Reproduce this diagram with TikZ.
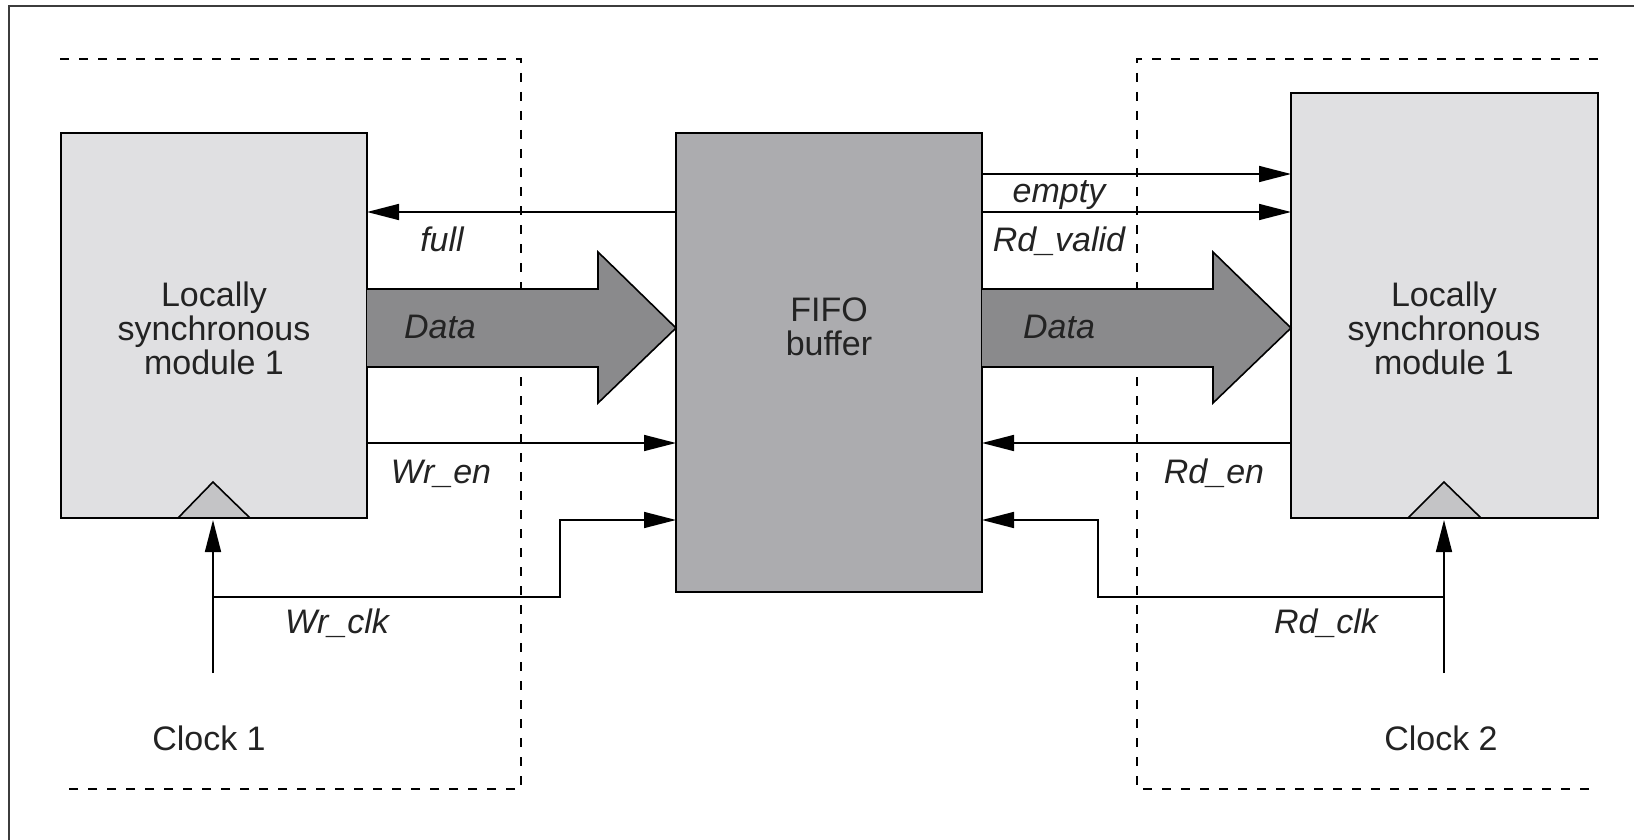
\documentclass[tikz,border=0pt]{standalone}
\usepackage{fontspec}
\setmainfont{Liberation Sans}
\usetikzlibrary{arrows.meta}
\definecolor{modfill}{RGB}{224,224,226}
\definecolor{fifofill}{RGB}{172,172,175}
\definecolor{datafill}{RGB}{138,138,140}
\definecolor{trifill}{RGB}{196,196,198}
\definecolor{framecol}{RGB}{60,60,60}
\definecolor{textcol}{RGB}{35,35,35}
\tikzset{
  box/.style={draw=black, line width=1pt, inner sep=0pt, outer sep=0pt},
  sig/.style={draw=black, line width=0.8pt, -{Triangle[length=16pt,width=8pt]}},
  zone/.style={draw=black, line width=0.9pt, dash pattern=on 4.5pt off 5pt},
  lab/.style={font=\fontsize{17}{17}\selectfont\itshape, text=textcol, inner sep=0pt, anchor=base},
  txt/.style={font=\fontsize{17}{17}\selectfont, text=textcol, inner sep=0pt, align=center},
  dataarrow/.style={draw=black, line width=0.8pt, fill=datafill},
  tri/.style={draw=black, line width=0.8pt, fill=trifill}
}
\begin{document}
\begin{tikzpicture}[x=0.5pt,y=-0.5pt]
\useasboundingbox (0,0) rectangle (1634,840);
% outer frame
\draw[framecol, line width=1pt] (1634,6) -- (9,6) -- (9,840);
% dashed zones
\draw[zone] (60,59) -- (521,59) -- (521,789) -- (60,789);
\draw[zone] (1598,59) -- (1137,59) -- (1137,789) -- (1598,789);
% boxes
\node[box, fill=modfill, minimum width=153pt, minimum height=192.5pt] (lmod) at (214,325.5) {};
\node[box, fill=fifofill, minimum width=153pt, minimum height=229.5pt] (fifo) at (829,362.5) {};
\node[box, fill=modfill, minimum width=153.5pt, minimum height=212.5pt] (rmod) at (1444.5,305.5) {};
\node[txt] (lmodtxt) at (214,328) {Locally\\synchronous\\module 1};
\node[txt] (rmodtxt) at (1444,328) {Locally\\synchronous\\module 1};
\node[txt] (fifotxt) at (829,327) {FIFO\\buffer};
% clock triangles
\draw[tri] (178,518) -- (213,482) -- (250,518) -- cycle;
\draw[tri] (1408,518) -- (1444,482) -- (1481,518) -- cycle;
% data arrows
\draw[dataarrow] (lmod.east |- 0,289) -- (598,289) -- (598,252) -- (fifo.west |- 0,328) -- (598,403) -- (598,367) -- (lmod.east |- 0,367);
\draw[dataarrow] (fifo.east |- 0,289) -- (1213,289) -- (1213,252) -- (rmod.west |- 0,328) -- (1213,403) -- (1213,367) -- (fifo.east |- 0,367);
% helper coordinates
\coordinate (yfull) at (0,212);
\coordinate (yempty) at (0,174);
\coordinate (yen) at (0,443);
\coordinate (yclk) at (0,520);
\coordinate (c1) at (213,673);
\coordinate (c2) at (1444,673);
\coordinate (b1) at (213,597);
\coordinate (b2) at (1444,597);
\coordinate (k1) at (560,597);
\coordinate (k2) at (1098,597);
% signals
\draw[sig] (fifo.west |- yfull) -- (lmod.east |- yfull);
\draw[sig] (fifo.east |- yempty) -- (rmod.west |- yempty);
\draw[sig] (fifo.east |- yfull) -- (rmod.west |- yfull);
\draw[sig] (lmod.east |- yen) -- (fifo.west |- yen);
\draw[sig] (rmod.west |- yen) -- (fifo.east |- yen);
\draw[sig] (c1) -- ([yshift=-1pt]lmod.south -| c1);
\draw[sig] (c2) -- ([yshift=-1pt]rmod.south -| c2);
\draw[sig] (b1) -- (k1) -- (k1 |- yclk) -- (fifo.west |- yclk);
\draw[sig] (b2) -- (k2) -- (k2 |- yclk) -- (fifo.east |- yclk);
% labels
\node[lab] (lfull) at (442,251) {full};
\node[lab] (ldata1) at (440,338) {Data};
\node[lab] (lempty) at (1059,203) {empty};
\node[lab] (lrdv) at (1059,251) {Rd\_valid};
\node[lab] (ldata2) at (1059,338) {Data};
\node[lab] (lwren) at (441,483) {Wr\_en};
\node[lab] (lrden) at (1214,483) {Rd\_en};
\node[lab] (lwrclk) at (337,633) {Wr\_clk};
\node[lab] (lrdclk) at (1326,633) {Rd\_clk};
\node[txt, anchor=base] (clk1) at (209,750) {Clock 1};
\node[txt, anchor=base] (clk2) at (1441,750) {Clock 2};
\end{tikzpicture}
\end{document}
